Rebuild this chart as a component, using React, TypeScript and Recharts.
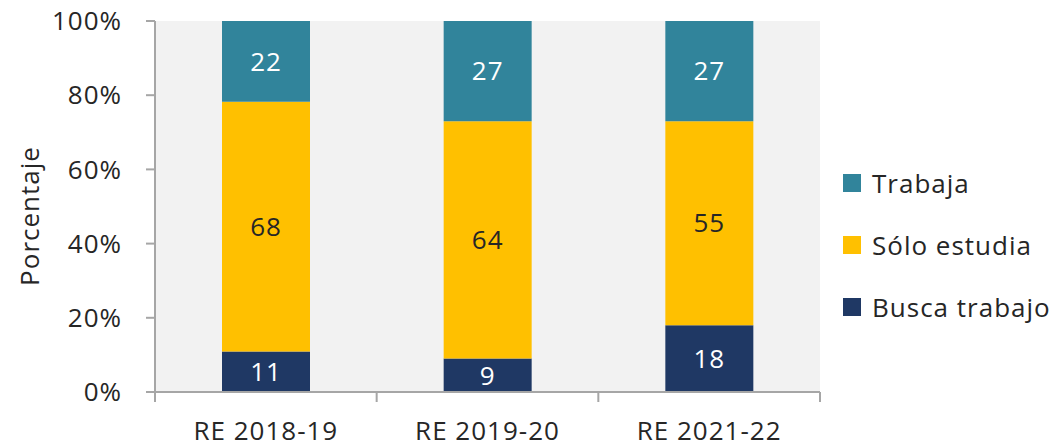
import { BarChart, Bar, XAxis, YAxis, CartesianGrid, Legend, LabelList } from "recharts";

const categories = ["RE 2018-19", "RE 2019-20", "RE 2021-22"];
const buscaTrabajo = [11, 9, 18];
const soloEstudia = [68, 64, 55];
const trabaja = [22, 27, 27];
const yTicks = [0, 0.2, 0.4, 0.6, 0.8, 1];

const COLORS = {
  trabaja: "#31849B",
  estudia: "#FFC000",
  busca: "#1F3864",
};

const FONT = "'Open Sans', sans-serif";
const TEXT = "#262626";
const AXIS = "#a6a6a6";

const W = 1057;
const H = 448;
const MARGIN = { top: 21, right: 237, bottom: 0, left: 0 };
const Y_AXIS_W = 155;
const BAND = (W - MARGIN.right - Y_AXIS_W) / categories.length;

const data = categories.map((name, i) => ({
  name,
  busca: buscaTrabajo[i],
  estudia: soloEstudia[i],
  trabaja: trabaja[i],
}));

const legendItems = [
  { label: "Trabaja", color: COLORS.trabaja },
  { label: "Sólo estudia", color: COLORS.estudia },
  { label: "Busca trabajo", color: COLORS.busca },
];

// Excel-style category ticks: drawn at the band edges, not the centres
function XTick(props: any) {
  const { x, y, payload, index } = props;
  const last = index === categories.length - 1;
  return (
    <g>
      <line x1={x - BAND / 2} x2={x - BAND / 2} y1={y} y2={y + 10} stroke={AXIS} strokeWidth={2} />
      {last && <line x1={x + BAND / 2} x2={x + BAND / 2} y1={y} y2={y + 10} stroke={AXIS} strokeWidth={2} />}
      <text x={x} y={y + 38} dominantBaseline="central" textAnchor="middle" fill={TEXT} fontSize={26} fontFamily={FONT} letterSpacing={1}>
        {payload.value}
      </text>
    </g>
  );
}

function renderLegend() {
  return (
    <div style={{ fontFamily: FONT, fontSize: 26, letterSpacing: 1, color: TEXT }}>
      {legendItems.map((it) => (
        <div key={it.label} style={{ display: "flex", alignItems: "center", height: 62 }}>
          <span style={{ width: 18, height: 18, background: it.color, marginRight: 11, display: "inline-block" }} />
          <span>{it.label}</span>
        </div>
      ))}
    </div>
  );
}

export default function App() {
  return (
    <div style={{ position: "absolute", left: 0, top: 0, width: W, height: H, background: "#fff", overflow: "hidden" }}>
      <BarChart width={W} height={H} data={data} margin={MARGIN} stackOffset="expand" barSize={88}>
        <CartesianGrid horizontal={false} vertical={false} fill="#f2f2f2" />
        <XAxis
          dataKey="name"
          tick={<XTick />}
          tickLine={false}
          tickSize={0}
          tickMargin={0}
          height={56}
          axisLine={{ stroke: AXIS, strokeWidth: 2 }}
          interval={0}
        />
        <YAxis
          width={Y_AXIS_W}
          domain={[0, 1]}
          ticks={yTicks}
          tickFormatter={(v: number) => `${Math.round(v * 100)}%`}
          tick={{ fill: TEXT, fontSize: 26, fontFamily: FONT, letterSpacing: 1 }}
          tickSize={9}
          tickMargin={24}
          tickLine={{ stroke: AXIS, strokeWidth: 2 }}
          axisLine={{ stroke: AXIS, strokeWidth: 2 }}
          label={{
            content: () => (
              <text
                x={29}
                y={216}
                transform="rotate(-90 29 216)"
                textAnchor="middle"
                dominantBaseline="central"
                fill={TEXT}
                fontSize={26}
                fontFamily={FONT}
                letterSpacing={1}
              >
                Porcentaje
              </text>
            ),
          }}
        />
        <Legend
          layout="vertical"
          align="center"
          verticalAlign="middle"
          content={renderLegend}
          wrapperStyle={{ position: "absolute", left: 843, top: 152, width: 214 }}
        />
        <Bar dataKey="busca" stackId="a" fill={COLORS.busca} isAnimationActive={false}>
          <LabelList dataKey="busca" position="center" fill="#ffffff" fontSize={26} fontFamily={FONT} letterSpacing={1} />
        </Bar>
        <Bar dataKey="estudia" stackId="a" fill={COLORS.estudia} isAnimationActive={false}>
          <LabelList dataKey="estudia" position="center" fill={TEXT} fontSize={26} fontFamily={FONT} letterSpacing={1} />
        </Bar>
        <Bar dataKey="trabaja" stackId="a" fill={COLORS.trabaja} isAnimationActive={false}>
          <LabelList dataKey="trabaja" position="center" fill="#ffffff" fontSize={26} fontFamily={FONT} letterSpacing={1} />
        </Bar>
      </BarChart>
    </div>
  );
}
